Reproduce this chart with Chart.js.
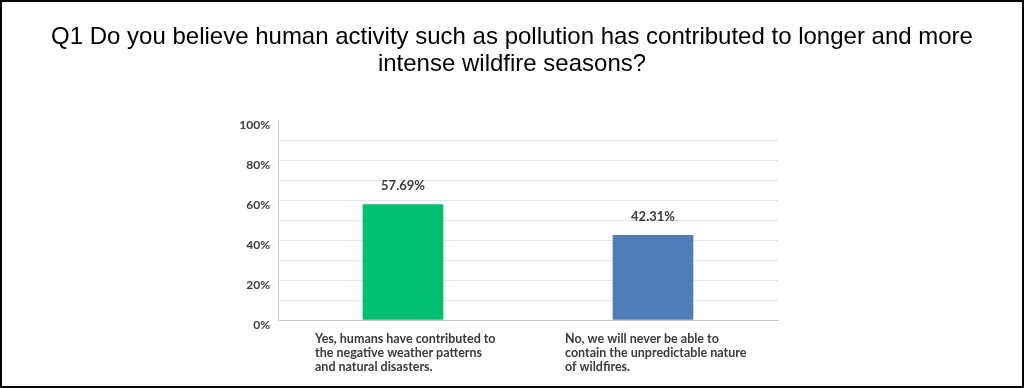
<!DOCTYPE html>
<html>
<head>
<meta charset="utf-8">
<script src="https://cdn.jsdelivr.net/npm/chart.js@4.4.1/dist/chart.umd.min.js"></script>
<style>
  html, body { margin: 0; padding: 0; background: #fff; }
  #wrap { width: 1024px; height: 388px; box-sizing: border-box; border: 2px solid #000; }
  canvas { display: block; }
</style>
</head>
<body>
<div id="wrap"><canvas id="mycanvas" width="1020" height="384"></canvas></div>
<script>
var titleLines = [
  'Q1 Do you believe human activity such as pollution has contributed to longer and more',
  'intense wildfire seasons?'
];
var answers = [
  ['Yes, humans have contributed to', 'the negative weather patterns', 'and natural disasters.'],
  ['No, we will never be able to', 'contain the unpredictable nature', 'of wildfires.']
];
var percents = [57.69, 42.31];
var barColors = ['#00bf6f', '#507cb7'];
var yTicks = [0, 20, 40, 60, 80, 100];

var labelFont = { family: 'Lato', size: 12, weight: 'bold' };

// value labels above the bars
var valueLabels = {
  id: 'valueLabels',
  afterDatasetsDraw: function(chart) {
    var ctx = chart.ctx;
    var meta = chart.getDatasetMeta(0);
    ctx.save();
    ctx.font = 'bold 13px Lato';
    ctx.fillStyle = '#3b3b3b';
    ctx.textAlign = 'center';
    ctx.textBaseline = 'middle';
    meta.data.forEach(function(bar, i) {
      ctx.fillText(percents[i].toFixed(2) + '%', bar.x, bar.y - 19);
    });
    ctx.restore();
  }
};

var chartdata = {
  labels: answers,
  datasets: [{
    data: percents,
    backgroundColor: barColors,
    barThickness: 80
  }]
};

var ctx = document.getElementById('mycanvas');
var barGraph = new Chart(ctx, {
  type: 'bar',
  data: chartdata,
  plugins: [valueLabels],
  options: {
    responsive: false,
    animation: false,
    layout: { padding: 0 },
    plugins: {
      legend: { display: false },
      tooltip: { enabled: false },
      title: {
        display: true,
        text: titleLines,
        color: '#000',
        font: { family: 'Liberation Sans', size: 24, weight: 'normal', lineHeight: '27px' },
        padding: { top: 22, bottom: 42 }
      }
    },
    scales: {
      y: {
        min: 0,
        max: 100,
        afterFit: function(scale) { scale.width = 276; },
        afterBuildTicks: function(scale) {
          var t = [];
          for (var v = 0; v <= 100; v += 10) t.push({ value: v });
          scale.ticks = t;
        },
        ticks: {
          padding: 8,
          labelOffset: 5,
          color: '#3b3b3b',
          font: labelFont,
          callback: function(v) { return yTicks.indexOf(v) >= 0 ? v + '%' : ''; }
        },
        grid: {
          drawTicks: false,
          color: function(c) {
            if (c.tick.value === 100) return 'rgba(0,0,0,0)';
            if (c.tick.value === 0) return '#c8c8c8';
            return '#e6e6e6';
          }
        },
        border: { color: '#d0d0d0' }
      },
      // empty spacer on the right so the title stays centred on the page
      spacer: {
        type: 'linear',
        position: 'right',
        afterFit: function(scale) { scale.width = 244; },
        grid: { display: false, drawTicks: false },
        border: { display: false },
        ticks: { display: false }
      },
      x: {
        afterFit: function(scale) { scale.height = 66; },
        grid: { display: false, drawTicks: false },
        border: { color: '#c8c8c8' },
        ticks: {
          align: 'start',
          labelOffset: -88,
          padding: 12,
          autoSkip: false,
          maxRotation: 0,
          color: '#3b3b3b',
          font: { family: 'Lato', size: 12.5, weight: 'bold', lineHeight: '14px' }
        }
      }
    }
  }
});
</script>
</body>
</html>
